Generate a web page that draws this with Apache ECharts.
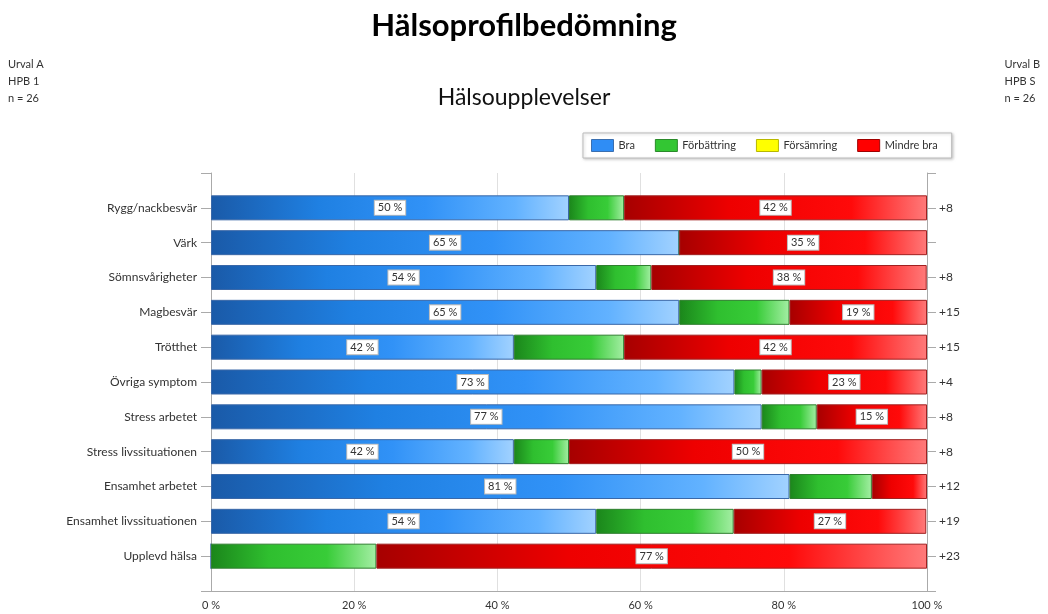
<!DOCTYPE html>
<html>
<head>
<meta charset="utf-8">
<script src="https://cdn.jsdelivr.net/npm/echarts@6/dist/echarts.min.js"></script>
<style>
  html, body { margin: 0; padding: 0; background: #fff; }
  #chart { width: 1048px; height: 614px; }
</style>
</head>
<body>
<div id="chart"></div>
<script>
// categories, top to bottom
const categories = ['Rygg/nackbesvär', 'Värk', 'Sömnsvårigheter', 'Magbesvär', 'Trötthet', 'Övriga symptom',
  'Stress arbetet', 'Stress livssituationen', 'Ensamhet arbetet', 'Ensamhet livssituationen', 'Upplevd hälsa']
// percent per category
const bra         = [50.0, 65.4, 53.8, 65.4, 42.3, 73.1, 76.9, 42.3, 80.8, 53.8, 0]
const forbattring = [7.7, 0, 7.7, 15.4, 15.4, 3.8, 7.7, 7.7, 11.5, 19.2, 23.1]
const forsamring  = [0, 0, 0, 0, 0, 0, 0, 0, 0, 0, 0]
const mindreBra   = [42.3, 34.6, 38.46, 19.2, 42.3, 23.1, 15.4, 50.0, 7.7, 26.9, 76.9]
// right side labels (change)
const change = ['+8', '', '+8', '+15', '+15', '+4', '+8', '+8', '+12', '+19', '+23']

const FONT = 'Lato, "Open Sans", sans-serif'

// empty slots at both ends so the axis runs half a row past the bars
const pad = arr => ['', ...arr, '']

const grad = stops => new echarts.graphic.LinearGradient(0, 0, 1, 0,
  stops.map(([offset, color]) => ({ offset, color })))

const pctLabel = {
  show: true, position: 'inside', color: '#333', fontSize: 11, fontFamily: FONT,
  backgroundColor: '#fff', borderColor: '#bbb', borderWidth: 1, padding: [2, 3, 1, 3],
  formatter: p => Math.round(p.value) + ' %',
}
// only label segments wide enough
const labelled = arr => ['-', ...arr.map(v => ({ value: v, label: { show: v >= 10 } })), '-']
const plain = arr => ['-', ...arr, '-']

const chart = echarts.init(document.getElementById('chart'))
chart.setOption({
  animation: false,
  textStyle: { fontFamily: FONT },
  title: [
    { text: 'Hälsoprofilbedömning', left: 'center', top: 5,
      textStyle: { fontSize: 31, fontWeight: 'bold', color: '#000', fontFamily: FONT } },
    { text: 'Hälsoupplevelser', left: 'center', top: 81,
      textStyle: { fontSize: 23, fontWeight: 'normal', color: '#111', fontFamily: FONT } },
    { text: 'Urval A\nHPB 1\nn = 26', left: 8, top: 56, padding: 0,
      textStyle: { fontSize: 11, fontWeight: 'normal', color: '#333', lineHeight: 17, fontFamily: FONT } },
    { text: 'Urval B\nHPB S\nn = 26', right: 8, top: 56, padding: 0,
      textStyle: { fontSize: 11, fontWeight: 'normal', color: '#333', lineHeight: 17, fontFamily: FONT, align: 'right' } },
  ],
  legend: {
    left: 583, top: 133, padding: [6, 14, 6, 8], itemGap: 20,
    itemWidth: 22, itemHeight: 12, icon: 'rect',
    borderColor: '#bbb', borderWidth: 1,
    backgroundColor: '#fff', shadowColor: 'rgba(0,0,0,0.2)', shadowBlur: 3, shadowOffsetX: 1, shadowOffsetY: 1,
    textStyle: { fontSize: 11, color: '#333', fontFamily: FONT },
    data: [
      { name: 'Bra', itemStyle: { color: '#2f8df5', borderColor: '#3a6fb0', borderWidth: 1 } },
      { name: 'Förbättring', itemStyle: { color: '#33c633', borderColor: '#2a8a2a', borderWidth: 1 } },
      { name: 'Försämring', itemStyle: { color: '#ffff00', borderColor: '#b8b800', borderWidth: 1 } },
      { name: 'Mindre bra', itemStyle: { color: '#ff0000', borderColor: '#a00000', borderWidth: 1 } },
    ],
  },
  grid: { left: 211, right: 121, top: 173, bottom: 23 },
  xAxis: {
    type: 'value', min: 0, max: 100, interval: 20,
    axisLine: { show: true, lineStyle: { color: '#aaa' } },
    axisTick: { show: false },
    axisLabel: { fontSize: 11, color: '#333', margin: 9, formatter: '{value} %' },
    splitLine: { show: true, lineStyle: { color: '#e0e0e0' } },
  },
  yAxis: [
    {
      type: 'category', inverse: true, boundaryGap: false, data: pad(categories),
      axisLine: { show: true, lineStyle: { color: '#aaa' } },
      axisTick: { show: true, length: 10, lineStyle: { color: '#aaa' } },
      axisLabel: { fontSize: 12, color: '#333', margin: 14 },
      splitLine: { show: false },
    },
    {
      type: 'category', inverse: true, boundaryGap: false, position: 'right', data: pad(change),
      axisLine: { show: true, lineStyle: { color: '#aaa' } },
      axisTick: { show: true, length: 9, lineStyle: { color: '#aaa' } },
      axisLabel: { fontSize: 12, color: '#333', margin: 12 },
      splitLine: { show: false },
    },
  ],
  series: [
    {
      name: 'Bra', type: 'bar', stack: 'all', barWidth: 25, data: labelled(bra),
      itemStyle: {
        color: grad([[0, '#1a5aa8'], [0.3, '#1f80e2'], [0.6, '#3192f7'], [0.85, '#62b2ff'], [1, '#a2d2ff']]),
        borderColor: '#3a68a8', borderWidth: 1,
      },
      label: pctLabel,
    },
    {
      name: 'Förbättring', type: 'bar', stack: 'all', barWidth: 25, data: plain(forbattring),
      itemStyle: {
        color: grad([[0, '#1b861b'], [0.35, '#2fbf2f'], [0.7, '#38cc38'], [1, '#a4eea4']]),
        borderColor: '#2f7f2f', borderWidth: 1,
      },
    },
    {
      name: 'Försämring', type: 'bar', stack: 'all', barWidth: 25, data: plain(forsamring),
      itemStyle: { color: '#ffff00', borderWidth: 0 },
    },
    {
      name: 'Mindre bra', type: 'bar', stack: 'all', barWidth: 25, data: labelled(mindreBra),
      itemStyle: {
        color: grad([[0, '#a60000'], [0.35, '#ee0000'], [0.75, '#ff0a0a'], [1, '#ff7a7a']]),
        borderColor: '#a02020', borderWidth: 1,
      },
      label: pctLabel,
    },
  ],
})
</script>
</body>
</html>
